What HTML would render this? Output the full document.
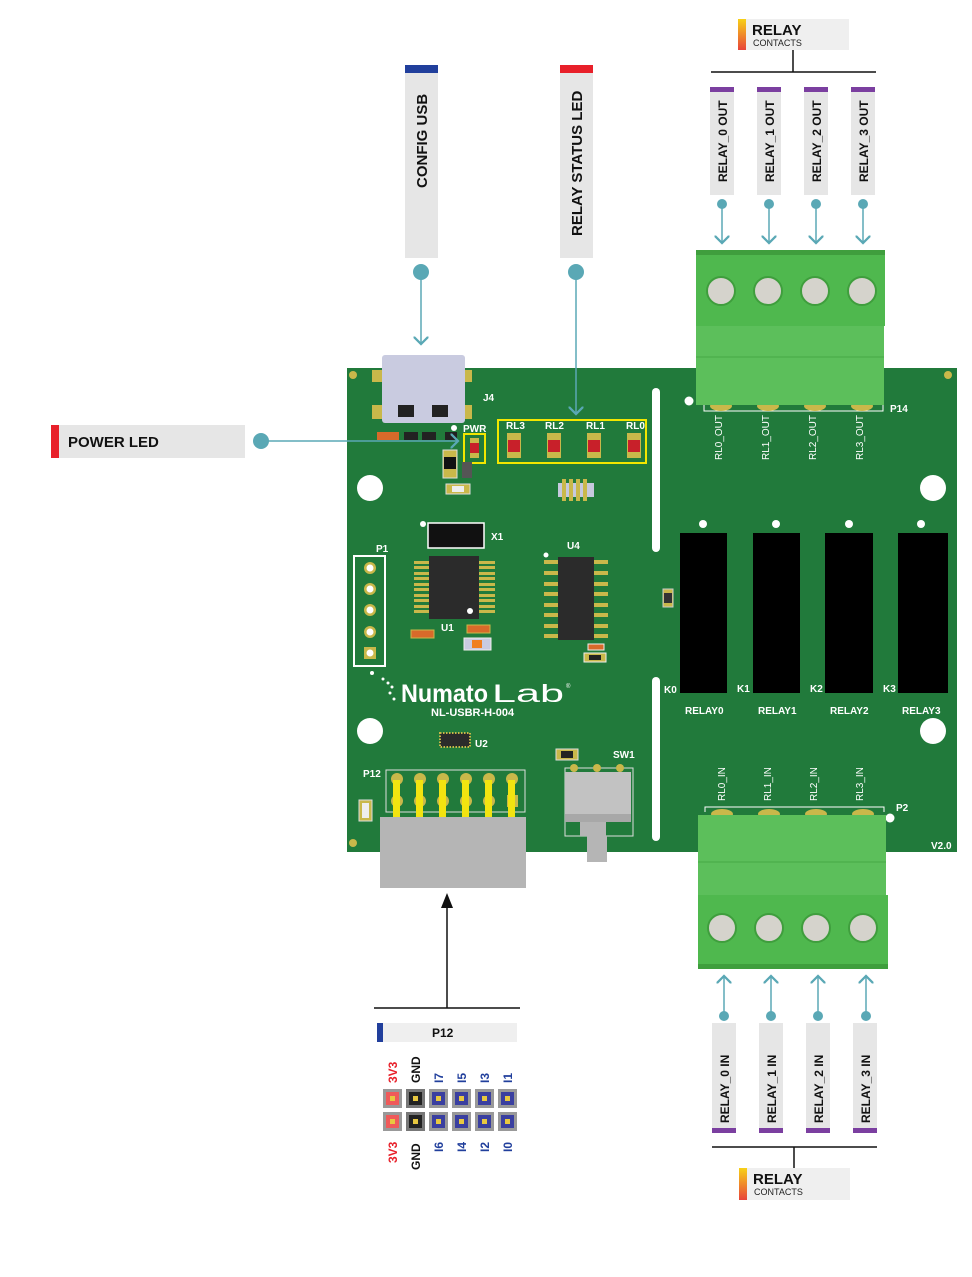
<!DOCTYPE html>
<html><head><meta charset="utf-8"><style>
html,body{margin:0;padding:0;background:#fff;}
svg{display:block;}
text{font-family:"Liberation Sans",sans-serif;}
</style></head><body>
<svg width="972" height="1277" viewBox="0 0 972 1277" xmlns="http://www.w3.org/2000/svg">
<defs>
<linearGradient id="rg" x1="0" y1="0" x2="0" y2="1"><stop offset="0" stop-color="#f7d117"/><stop offset="1" stop-color="#e8433a"/></linearGradient>
<marker id="ah" markerWidth="10" markerHeight="10" refX="5" refY="5" orient="auto"><path d="M0,0 L5,5 L0,10" fill="none" stroke="#5aa8b5" stroke-width="1.5"/></marker>
</defs>

<rect x="347" y="368" width="610" height="484" fill="#217a3b"/>
<circle cx="353" cy="375" r="4" fill="#c9b84a"/>
<circle cx="948" cy="375" r="4" fill="#c9b84a"/>
<circle cx="353" cy="843" r="4" fill="#c9b84a"/>
<circle cx="370" cy="488" r="13" fill="#fff"/>
<circle cx="370" cy="731" r="13" fill="#fff"/>
<circle cx="933" cy="488" r="13" fill="#fff"/>
<circle cx="933" cy="731" r="13" fill="#fff"/>
<rect x="652" y="388" width="8" height="164" rx="4" fill="#fff"/>
<rect x="652" y="677" width="8" height="164" rx="4" fill="#fff"/>

<rect x="372" y="370" width="100" height="12" fill="#c9b84a"/>
<rect x="372" y="405" width="100" height="14" fill="#c9b84a"/>
<rect x="382" y="355" width="83" height="68" rx="3" fill="#c9cbe0"/>
<rect x="398" y="405" width="16" height="12" fill="#222"/>
<rect x="432" y="405" width="16" height="12" fill="#222"/>
<text x="483" y="401" font-size="10" font-weight="bold" fill="#fff">J4</text>
<rect x="377" y="432" width="22" height="8" fill="#d86a2a"/>
<rect x="404" y="432" width="14" height="8" fill="#222"/>
<rect x="422" y="432" width="14" height="8" fill="#222"/>
<rect x="445" y="432" width="12" height="8" fill="#222"/>
<circle cx="454" cy="428" r="3" fill="#fff"/>
<text x="463" y="432" font-size="10" font-weight="bold" fill="#fff">PWR</text>
<rect x="464" y="434" width="21" height="29" fill="none" stroke="#f2e600" stroke-width="2"/>
<rect x="470" y="438" width="9" height="20" fill="#c9b84a"/><rect x="470" y="443" width="9" height="10" fill="#c8202a"/>
<rect x="443" y="450" width="14" height="28" fill="#c9b84a" stroke="#ddd" stroke-width="1"/><rect x="444" y="457" width="12" height="12" fill="#111"/>
<rect x="462" y="462" width="10" height="16" fill="#555"/>
<rect x="446" y="484" width="24" height="10" fill="#c9b84a" stroke="#ddd"/><rect x="452" y="486" width="12" height="6" fill="#eee"/>
<rect x="498" y="420" width="148" height="43" fill="none" stroke="#f2e600" stroke-width="2"/>
<text x="506" y="429" font-size="10" font-weight="bold" fill="#fff">RL3</text>
<text x="545" y="429" font-size="10" font-weight="bold" fill="#fff">RL2</text>
<text x="586" y="429" font-size="10" font-weight="bold" fill="#fff">RL1</text>
<text x="626" y="429" font-size="10" font-weight="bold" fill="#fff">RL0</text>
<g fill="#c9b84a"><rect x="507" y="433" width="14" height="25"/><rect x="547" y="433" width="14" height="25"/><rect x="587" y="433" width="14" height="25"/><rect x="627" y="433" width="14" height="25"/></g>
<g fill="#c8202a"><rect x="508" y="440" width="12" height="12"/><rect x="548" y="440" width="12" height="12"/><rect x="588" y="440" width="12" height="12"/><rect x="628" y="440" width="12" height="12"/></g>
<rect x="558" y="483" width="36" height="14" fill="#c6c9de"/>
<g fill="#c9b84a"><rect x="562" y="479" width="4" height="22"/><rect x="569" y="479" width="4" height="22"/><rect x="576" y="479" width="4" height="22"/><rect x="583" y="479" width="4" height="22"/></g>

<rect x="428" y="523" width="56" height="25" fill="#111" stroke="#fff" stroke-width="1.5"/>
<circle cx="423" cy="524" r="3" fill="#fff"/>
<text x="491" y="540" font-size="10" font-weight="bold" fill="#fff">X1</text>
<g fill="#c9b84a">
<rect x="414" y="561" width="16" height="3"/><rect x="414" y="566" width="16" height="3"/><rect x="414" y="572" width="16" height="3"/><rect x="414" y="577" width="16" height="3"/><rect x="414" y="583" width="16" height="3"/><rect x="414" y="588" width="16" height="3"/><rect x="414" y="594" width="16" height="3"/><rect x="414" y="599" width="16" height="3"/><rect x="414" y="605" width="16" height="3"/><rect x="414" y="610" width="16" height="3"/>
<rect x="479" y="561" width="16" height="3"/><rect x="479" y="566" width="16" height="3"/><rect x="479" y="572" width="16" height="3"/><rect x="479" y="577" width="16" height="3"/><rect x="479" y="583" width="16" height="3"/><rect x="479" y="588" width="16" height="3"/><rect x="479" y="594" width="16" height="3"/><rect x="479" y="599" width="16" height="3"/><rect x="479" y="605" width="16" height="3"/><rect x="479" y="610" width="16" height="3"/>
</g>
<rect x="429" y="556" width="50" height="63" fill="#2b2b2b"/>
<circle cx="470" cy="611" r="3" fill="#fff"/>
<text x="441" y="631" font-size="10" font-weight="bold" fill="#fff">U1</text>
<rect x="411" y="630" width="23" height="8" fill="#d86a2a" stroke="#c9b84a"/>
<rect x="467" y="625" width="23" height="8" fill="#d86a2a" stroke="#c9b84a"/>
<rect x="464" y="638" width="27" height="12" fill="#c9cbe0" stroke="#eee"/><rect x="472" y="640" width="10" height="8" fill="#f08020"/>
<text x="567" y="549" font-size="10" font-weight="bold" fill="#fff">U4</text>
<circle cx="546" cy="555" r="2.5" fill="#fff"/>
<g fill="#c9b84a">
<rect x="544" y="560" width="64" height="4"/><rect x="544" y="571" width="64" height="4"/><rect x="544" y="582" width="64" height="4"/><rect x="544" y="592" width="64" height="4"/><rect x="544" y="603" width="64" height="4"/><rect x="544" y="613" width="64" height="4"/><rect x="544" y="624" width="64" height="4"/><rect x="544" y="634" width="64" height="4"/>
</g>
<rect x="558" y="557" width="36" height="83" fill="#2b2b2b"/>
<rect x="588" y="644" width="16" height="6" fill="#d86a2a" stroke="#eee"/>
<rect x="584" y="653" width="22" height="9" fill="#c9b84a" stroke="#eee"/><rect x="589" y="655" width="12" height="5" fill="#222"/>
<rect x="663" y="589" width="10" height="18" fill="#c9b84a" stroke="#ccc"/><rect x="664" y="593" width="8" height="10" fill="#333"/>
<text x="376" y="552" font-size="10" font-weight="bold" fill="#fff">P1</text>
<rect x="354" y="556" width="31" height="110" fill="none" stroke="#fff" stroke-width="2"/>
<g fill="#c9b84a"><circle cx="370" cy="568" r="6"/><circle cx="370" cy="589" r="6"/><circle cx="370" cy="610" r="6"/><circle cx="370" cy="632" r="6"/><rect x="364" y="647" width="12" height="12"/></g>
<g fill="#fff"><circle cx="370" cy="568" r="3.5"/><circle cx="370" cy="589" r="3.5"/><circle cx="370" cy="610" r="3.5"/><circle cx="370" cy="632" r="3.5"/><circle cx="370" cy="653" r="3.5"/></g>
<g fill="#fff"><circle cx="372" cy="673" r="2"/><circle cx="383" cy="679" r="1.5"/><circle cx="388" cy="683" r="1.5"/><circle cx="392" cy="687" r="1.5"/><circle cx="390" cy="693" r="1.5"/><circle cx="394" cy="699" r="1.5"/></g>
<text x="401" y="702" font-size="25" font-weight="bold" fill="#fff" textLength="87" lengthAdjust="spacingAndGlyphs">Numato</text>
<text x="492" y="702" font-size="25" fill="#fff" textLength="72" lengthAdjust="spacingAndGlyphs">Lab</text>
<text x="566" y="688" font-size="6" fill="#fff">®</text>
<text x="431" y="716" font-size="11" font-weight="bold" fill="#fff">NL-USBR-H-004</text>
<rect x="440" y="733" width="30" height="14" fill="#2b2b2b" stroke="#c9b84a" stroke-width="2" stroke-dasharray="1.5 1.5"/>
<text x="475" y="747" font-size="10" font-weight="bold" fill="#fff">U2</text>
<text x="363" y="777" font-size="10" font-weight="bold" fill="#fff">P12</text>
<rect x="386" y="770" width="139" height="42" fill="none" stroke="#ddd" stroke-width="1"/>
<rect x="359" y="800" width="13" height="21" fill="#c9b84a" stroke="#ddd"/><rect x="362" y="803" width="7" height="15" fill="#eee"/>
<g fill="#c9b84a"><circle cx="397" cy="779" r="6"/><circle cx="420" cy="779" r="6"/><circle cx="443" cy="779" r="6"/><circle cx="466" cy="779" r="6"/><circle cx="489" cy="779" r="6"/><circle cx="512" cy="779" r="6"/>
<circle cx="397" cy="801" r="6"/><circle cx="420" cy="801" r="6"/><circle cx="443" cy="801" r="6"/><circle cx="466" cy="801" r="6"/><circle cx="489" cy="801" r="6"/><rect x="507" y="795" width="11" height="12"/></g>
<g fill="#f2e410"><rect x="393" y="780" width="7" height="40"/><rect x="416" y="780" width="7" height="40"/><rect x="439" y="780" width="7" height="40"/><rect x="462" y="780" width="7" height="40"/><rect x="485" y="780" width="7" height="40"/><rect x="508" y="780" width="7" height="40"/></g>
<rect x="380" y="817" width="146" height="71" fill="#b5b5b5"/>
<rect x="556" y="749" width="22" height="11" fill="#c9b84a" stroke="#ddd"/><rect x="561" y="751" width="12" height="7" fill="#222"/>
<text x="613" y="758" font-size="10" font-weight="bold" fill="#fff">SW1</text>
<rect x="565" y="768" width="68" height="68" fill="none" stroke="#ddd"/>
<rect x="565" y="772" width="66" height="44" fill="#c2c2c2"/>
<rect x="565" y="814" width="66" height="8" fill="#a8a8a8"/>
<rect x="580" y="822" width="26" height="14" fill="#b5b5b5"/>
<rect x="587" y="836" width="20" height="26" fill="#b5b5b5"/>
<g fill="#c9b84a"><circle cx="574" cy="768" r="4"/><circle cx="597" cy="768" r="4"/><circle cx="620" cy="768" r="4"/></g>

<g fill="#000"><rect x="680" y="533" width="47" height="160"/><rect x="753" y="533" width="47" height="160"/><rect x="825" y="533" width="48" height="160"/><rect x="898" y="533" width="50" height="160"/></g>
<g fill="#fff"><circle cx="703" cy="524" r="4"/><circle cx="776" cy="524" r="4"/><circle cx="849" cy="524" r="4"/><circle cx="921" cy="524" r="4"/><circle cx="689" cy="401" r="4.5"/><circle cx="890" cy="818" r="4.5"/></g>
<g font-size="10" font-weight="bold" fill="#fff">
<text x="664" y="693">K0</text><text x="737" y="692">K1</text><text x="810" y="692">K2</text><text x="883" y="692">K3</text>
<text x="685" y="714">RELAY0</text><text x="758" y="714">RELAY1</text><text x="830" y="714">RELAY2</text><text x="902" y="714">RELAY3</text>
<text x="890" y="412">P14</text><text x="896" y="811">P2</text><text x="931" y="849">V2.0</text>
</g>
<g font-size="10" fill="#fff">
<text transform="translate(722,460) rotate(-90)">RL0_OUT</text>
<text transform="translate(769,460) rotate(-90)">RL1_OUT</text>
<text transform="translate(816,460) rotate(-90)">RL2_OUT</text>
<text transform="translate(863,460) rotate(-90)">RL3_OUT</text>
<text transform="translate(725,801) rotate(-90)">RL0_IN</text>
<text transform="translate(771,801) rotate(-90)">RL1_IN</text>
<text transform="translate(817,801) rotate(-90)">RL2_IN</text>
<text transform="translate(863,801) rotate(-90)">RL3_IN</text>
</g>
<path d="M704,405 v6 h179 v-6" fill="none" stroke="#fff" stroke-width="1"/>
<path d="M705,812 v-5 h179 v5" fill="none" stroke="#fff" stroke-width="1"/>

<g fill="#c9b84a"><ellipse cx="721" cy="406" rx="11" ry="5"/><ellipse cx="768" cy="406" rx="11" ry="5"/><ellipse cx="815" cy="406" rx="11" ry="5"/><ellipse cx="862" cy="406" rx="11" ry="5"/></g>
<rect x="696" y="250" width="189" height="76" fill="#4fb84e"/>
<rect x="696" y="326" width="188" height="79" fill="#5cbf5b"/>
<line x1="696" y1="357" x2="884" y2="357" stroke="#46a845" stroke-width="1"/>
<rect x="696" y="250" width="189" height="5" fill="#3f9e3d"/>
<g fill="#d5d3cc" stroke="#3f9e3d" stroke-width="2"><circle cx="721" cy="291" r="14"/><circle cx="768" cy="291" r="14"/><circle cx="815" cy="291" r="14"/><circle cx="862" cy="291" r="14"/></g>
<g fill="#c9b84a"><ellipse cx="722" cy="814" rx="11" ry="5"/><ellipse cx="769" cy="814" rx="11" ry="5"/><ellipse cx="816" cy="814" rx="11" ry="5"/><ellipse cx="863" cy="814" rx="11" ry="5"/></g>
<rect x="698" y="815" width="188" height="80" fill="#5cbf5b"/>
<line x1="698" y1="862" x2="886" y2="862" stroke="#46a845" stroke-width="1"/>
<rect x="698" y="895" width="190" height="74" fill="#4fb84e"/>
<rect x="698" y="964" width="190" height="5" fill="#3f9e3d"/>
<g fill="#d5d3cc" stroke="#3f9e3d" stroke-width="2"><circle cx="722" cy="928" r="14"/><circle cx="769" cy="928" r="14"/><circle cx="816" cy="928" r="14"/><circle cx="863" cy="928" r="14"/></g>

<rect x="51" y="425" width="194" height="33" fill="#e6e6e6"/>
<rect x="51" y="425" width="8" height="33" fill="#e8202a"/>
<text x="68" y="447" font-size="15" font-weight="bold" fill="#111">POWER LED</text>
<line x1="261" y1="441" x2="458" y2="441" stroke="#5aa8b5" stroke-width="1.5" marker-end="url(#ah)"/>
<circle cx="261" cy="441" r="8" fill="#5aa8b5"/>

<rect x="405" y="65" width="33" height="193" fill="#e6e6e6"/>
<rect x="405" y="65" width="33" height="8" fill="#213f9c"/>
<text transform="translate(427,188) rotate(-90)" font-size="15" font-weight="bold" fill="#111">CONFIG USB</text>
<line x1="421" y1="272" x2="421" y2="344" stroke="#5aa8b5" stroke-width="1.5" marker-end="url(#ah)"/>
<circle cx="421" cy="272" r="8" fill="#5aa8b5"/>
<rect x="560" y="65" width="33" height="193" fill="#e6e6e6"/>
<rect x="560" y="65" width="33" height="8" fill="#e8202a"/>
<text transform="translate(582,236) rotate(-90)" font-size="15" font-weight="bold" fill="#111">RELAY STATUS LED</text>
<line x1="576" y1="272" x2="576" y2="414" stroke="#5aa8b5" stroke-width="1.5" marker-end="url(#ah)"/>
<circle cx="576" cy="272" r="8" fill="#5aa8b5"/>

<rect x="738" y="19" width="111" height="31" fill="#efefef"/>
<rect x="738" y="19" width="8" height="31" fill="url(#rg)"/>
<text x="752" y="35" font-size="15" font-weight="bold" fill="#111">RELAY</text>
<text x="753" y="46" font-size="9" fill="#222">CONTACTS</text>
<line x1="793" y1="50" x2="793" y2="72" stroke="#111" stroke-width="1.5"/>
<line x1="711" y1="72" x2="876" y2="72" stroke="#111" stroke-width="1.5"/>
<g fill="#e6e6e6"><rect x="710" y="87" width="24" height="108"/><rect x="757" y="87" width="24" height="108"/><rect x="804" y="87" width="24" height="108"/><rect x="851" y="87" width="24" height="108"/></g>
<g fill="#7b3fa0"><rect x="710" y="87" width="24" height="5"/><rect x="757" y="87" width="24" height="5"/><rect x="804" y="87" width="24" height="5"/><rect x="851" y="87" width="24" height="5"/></g>
<g font-size="12" font-weight="bold" fill="#111">
<text transform="translate(727,182) rotate(-90)">RELAY_0 OUT</text>
<text transform="translate(774,182) rotate(-90)">RELAY_1 OUT</text>
<text transform="translate(821,182) rotate(-90)">RELAY_2 OUT</text>
<text transform="translate(868,182) rotate(-90)">RELAY_3 OUT</text>
</g>
<g stroke="#5aa8b5" stroke-width="1.5" marker-end="url(#ah)"><line x1="722" y1="204" x2="722" y2="243"/><line x1="769" y1="204" x2="769" y2="243"/><line x1="816" y1="204" x2="816" y2="243"/><line x1="863" y1="204" x2="863" y2="243"/></g>
<g fill="#5aa8b5"><circle cx="722" cy="204" r="5"/><circle cx="769" cy="204" r="5"/><circle cx="816" cy="204" r="5"/><circle cx="863" cy="204" r="5"/></g>

<g stroke="#5aa8b5" stroke-width="1.5" marker-end="url(#ah)"><line x1="724" y1="1016" x2="724" y2="976"/><line x1="771" y1="1016" x2="771" y2="976"/><line x1="818" y1="1016" x2="818" y2="976"/><line x1="866" y1="1016" x2="866" y2="976"/></g>
<g fill="#5aa8b5"><circle cx="724" cy="1016" r="5"/><circle cx="771" cy="1016" r="5"/><circle cx="818" cy="1016" r="5"/><circle cx="866" cy="1016" r="5"/></g>
<g fill="#e6e6e6"><rect x="712" y="1023" width="24" height="110"/><rect x="759" y="1023" width="24" height="110"/><rect x="806" y="1023" width="24" height="110"/><rect x="853" y="1023" width="24" height="110"/></g>
<g fill="#7b3fa0"><rect x="712" y="1128" width="24" height="5"/><rect x="759" y="1128" width="24" height="5"/><rect x="806" y="1128" width="24" height="5"/><rect x="853" y="1128" width="24" height="5"/></g>
<g font-size="12" font-weight="bold" fill="#111">
<text transform="translate(729,1123) rotate(-90)">RELAY_0 IN</text>
<text transform="translate(776,1123) rotate(-90)">RELAY_1 IN</text>
<text transform="translate(823,1123) rotate(-90)">RELAY_2 IN</text>
<text transform="translate(870,1123) rotate(-90)">RELAY_3 IN</text>
</g>
<line x1="712" y1="1147" x2="877" y2="1147" stroke="#111" stroke-width="1.5"/>
<line x1="794" y1="1147" x2="794" y2="1168" stroke="#111" stroke-width="1.5"/>
<rect x="739" y="1168" width="111" height="32" fill="#efefef"/>
<rect x="739" y="1168" width="8" height="32" fill="url(#rg)"/>
<text x="753" y="1184" font-size="15" font-weight="bold" fill="#111">RELAY</text>
<text x="754" y="1195" font-size="9" fill="#222">CONTACTS</text>

<line x1="447" y1="1008" x2="447" y2="900" stroke="#111" stroke-width="1.5"/>
<path d="M441,908 L447,893 L453,908 Z" fill="#111"/>
<line x1="374" y1="1008" x2="520" y2="1008" stroke="#111" stroke-width="1.5"/>
<rect x="377" y="1023" width="140" height="19" fill="#efefef"/>
<rect x="377" y="1023" width="6" height="19" fill="#213f9c"/>
<text x="432" y="1037" font-size="12" font-weight="bold" fill="#111">P12</text>
<g>
<rect x="383" y="1089" width="19" height="19" fill="#999"/><rect x="386" y="1092" width="13" height="13" fill="#ef5a5a"/>
<rect x="383" y="1112" width="19" height="19" fill="#999"/><rect x="386" y="1115" width="13" height="13" fill="#ef5a5a"/>
<rect x="406" y="1089" width="19" height="19" fill="#777"/><rect x="409" y="1092" width="13" height="13" fill="#222"/>
<rect x="406" y="1112" width="19" height="19" fill="#777"/><rect x="409" y="1115" width="13" height="13" fill="#222"/>
<g fill="#999"><rect x="429" y="1089" width="19" height="19"/><rect x="452" y="1089" width="19" height="19"/><rect x="475" y="1089" width="19" height="19"/><rect x="498" y="1089" width="19" height="19"/><rect x="429" y="1112" width="19" height="19"/><rect x="452" y="1112" width="19" height="19"/><rect x="475" y="1112" width="19" height="19"/><rect x="498" y="1112" width="19" height="19"/></g>
<g fill="#3a3fa0"><rect x="432" y="1092" width="13" height="13"/><rect x="455" y="1092" width="13" height="13"/><rect x="478" y="1092" width="13" height="13"/><rect x="501" y="1092" width="13" height="13"/><rect x="432" y="1115" width="13" height="13"/><rect x="455" y="1115" width="13" height="13"/><rect x="478" y="1115" width="13" height="13"/><rect x="501" y="1115" width="13" height="13"/></g>
<g fill="#e8c840"><rect x="390" y="1096" width="5" height="5"/><rect x="413" y="1096" width="5" height="5"/><rect x="436" y="1096" width="5" height="5"/><rect x="459" y="1096" width="5" height="5"/><rect x="482" y="1096" width="5" height="5"/><rect x="505" y="1096" width="5" height="5"/><rect x="390" y="1119" width="5" height="5"/><rect x="413" y="1119" width="5" height="5"/><rect x="436" y="1119" width="5" height="5"/><rect x="459" y="1119" width="5" height="5"/><rect x="482" y="1119" width="5" height="5"/><rect x="505" y="1119" width="5" height="5"/></g>
</g>
<g font-size="12" font-weight="bold">
<text transform="translate(397,1083) rotate(-90)" fill="#e8202a">3V3</text>
<text transform="translate(420,1083) rotate(-90)" fill="#111">GND</text>
<text transform="translate(443,1083) rotate(-90)" fill="#213f9c">I7</text>
<text transform="translate(466,1083) rotate(-90)" fill="#213f9c">I5</text>
<text transform="translate(489,1083) rotate(-90)" fill="#213f9c">I3</text>
<text transform="translate(512,1083) rotate(-90)" fill="#213f9c">I1</text>
<text transform="translate(397,1163) rotate(-90)" fill="#e8202a">3V3</text>
<text transform="translate(420,1170) rotate(-90)" fill="#111">GND</text>
<text transform="translate(443,1152) rotate(-90)" fill="#213f9c">I6</text>
<text transform="translate(466,1152) rotate(-90)" fill="#213f9c">I4</text>
<text transform="translate(489,1152) rotate(-90)" fill="#213f9c">I2</text>
<text transform="translate(512,1152) rotate(-90)" fill="#213f9c">I0</text>
</g>
</svg>
</body></html>
